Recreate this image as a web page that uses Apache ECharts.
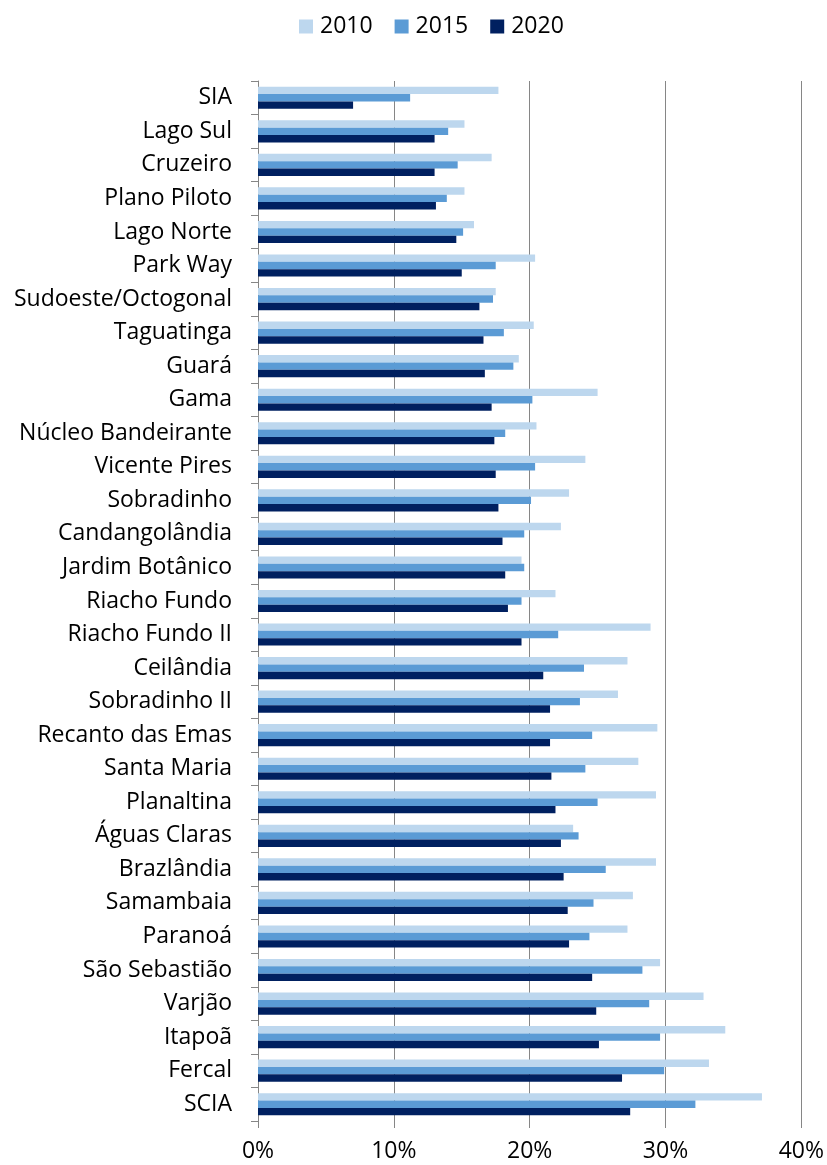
<!DOCTYPE html>
<html>
<head>
<meta charset="utf-8">
<script src="https://cdn.jsdelivr.net/npm/echarts@6/dist/echarts.min.js"></script>
<style>
  html, body { margin: 0; padding: 0; background: #fff; }
  #main { width: 827px; height: 1165px; }
</style>
</head>
<body>
<div id="main"></div>
<script>
var categories = ['SIA', 'Lago Sul', 'Cruzeiro', 'Plano Piloto', 'Lago Norte', 'Park Way',
	'Sudoeste/Octogonal', 'Taguatinga', 'Guará', 'Gama', 'Núcleo Bandeirante', 'Vicente Pires',
	'Sobradinho', 'Candangolândia', 'Jardim Botânico', 'Riacho Fundo', 'Riacho Fundo II',
	'Ceilândia', 'Sobradinho II', 'Recanto das Emas', 'Santa Maria', 'Planaltina',
	'Águas Claras', 'Brazlândia', 'Samambaia', 'Paranoá', 'São Sebastião', 'Varjão',
	'Itapoã', 'Fercal', 'SCIA'];

var years = ['2010', '2015', '2020'];

var v2010 = [17.7, 15.2, 17.2, 15.2, 15.9, 20.4, 17.5, 20.3, 19.2, 25.0, 20.5, 24.1, 22.9, 22.3, 19.4,
	21.9, 28.9, 27.2, 26.5, 29.4, 28.0, 29.3, 23.2, 29.3, 27.6, 27.2, 29.6, 32.8, 34.4, 33.2, 37.1];
var v2015 = [11.2, 14.0, 14.7, 13.9, 15.1, 17.5, 17.3, 18.1, 18.8, 20.2, 18.2, 20.4, 20.1, 19.6, 19.6,
	19.4, 22.1, 24.0, 23.7, 24.6, 24.1, 25.0, 23.6, 25.6, 24.7, 24.4, 28.3, 28.8, 29.6, 29.9, 32.2];
var v2020 = [7.0, 13.0, 13.0, 13.1, 14.6, 15.0, 16.3, 16.6, 16.7, 17.2, 17.4, 17.5, 17.7, 18.0, 18.2,
	18.4, 19.4, 21.0, 21.5, 21.5, 21.6, 21.9, 22.3, 22.5, 22.8, 22.9, 24.6, 24.9, 25.1, 26.8, 27.4];

var xTicks = [0, 10, 20, 30, 40];

var colors = ['#BDD7EE', '#5B9BD5', '#002060'];
var font = '"Open Sans", sans-serif';

var chart = echarts.init(document.getElementById('main'));

var option = {
	backgroundColor: '#ffffff',
	animation: false,
	color: colors,
	textStyle: { fontFamily: font },
	legend: {
		data: years,
		left: 294,
		top: 10,
		itemWidth: 14,
		itemHeight: 14,
		itemGap: 22,
		icon: 'rect',
		textStyle: { fontSize: 23, color: '#000', fontFamily: font, padding: [0, 0, 0, 2] }
	},
	grid: {
		left: 258,
		right: 25,
		top: 81,
		bottom: 44,
		containLabel: false
	},
	xAxis: {
		type: 'value',
		min: xTicks[0],
		max: xTicks[xTicks.length - 1],
		interval: 10,
		axisLine: { show: false },
		axisTick: { show: true, length: 7, lineStyle: { color: '#868686' } },
		splitLine: { show: true, lineStyle: { color: '#868686', width: 1 } },
		axisLabel: {
			formatter: '{value}%',
			fontSize: 23,
			color: '#000',
			margin: 19,
			fontFamily: font
		}
	},
	yAxis: {
		type: 'category',
		data: categories,
		inverse: true,
		axisLine: { show: true, lineStyle: { color: '#868686', width: 1 } },
		axisTick: { show: true, length: 7, lineStyle: { color: '#868686' } },
		axisLabel: {
			fontSize: 23,
			color: '#000',
			margin: 26,
			fontFamily: font
		}
	},
	series: [
		{ name: years[0], type: 'bar', data: v2010, barGap: '0%', barCategoryGap: '34%' },
		{ name: years[1], type: 'bar', data: v2015, barGap: '0%', barCategoryGap: '34%' },
		{ name: years[2], type: 'bar', data: v2020, barGap: '0%', barCategoryGap: '34%' }
	]
};

chart.setOption(option);
</script>
</body>
</html>
